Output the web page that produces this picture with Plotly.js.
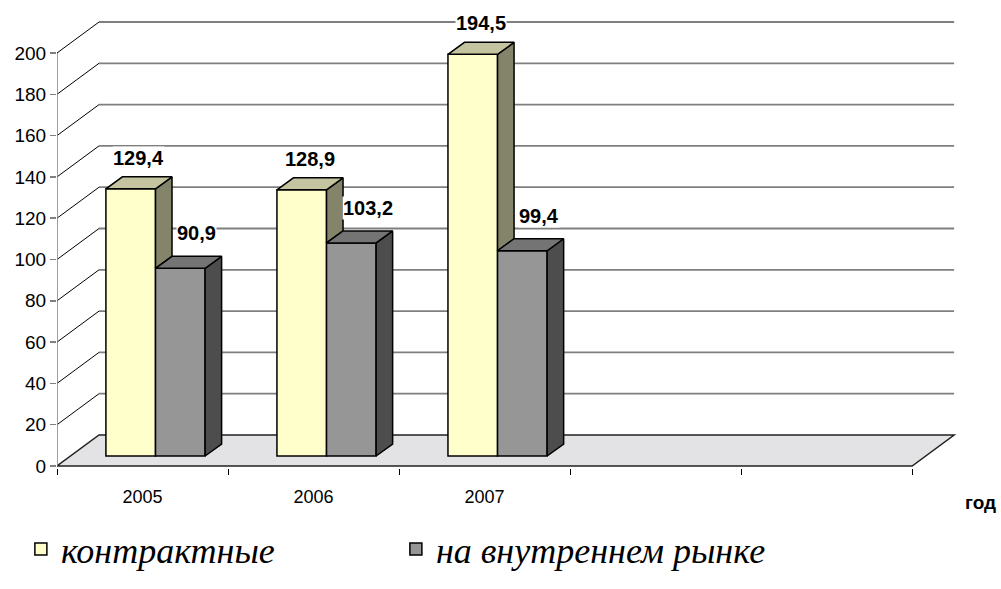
<!DOCTYPE html>
<html>
<head>
<meta charset="utf-8">
<script src="https://cdn.plot.ly/plotly-3.0.1.min.js"></script>
<style>html,body{margin:0;padding:0;background:#fff;}#chart{width:1001px;height:589px;}</style>
</head>
<body>
<div id="chart"></div>
<script>
// ---- data ----
const years = ['2005', '2006', '2007'];
const seriesNames = ['контрактные', 'на внутреннем рынке'];
const contract = [129.4, 128.9, 194.5];
const domestic = [90.9, 103.2, 99.4];
const yTickVals = [0, 20, 40, 60, 80, 100, 120, 140, 160, 180, 200];
const nCats = 5;

// ---- geometry (axis units) ----
const DX = 0.2456, DY = 15.0;      // wall depth
const BX = 0.076, BY = 4.84;       // bar plane offset from front
const BDX = 0.0965, BDY = 5.81;    // bar depth
const W = 0.29;                    // bar width
const yMax = 200;

const colors = {
  yFront: '#FFFFCC', yTop: '#C4C4A0', ySide: '#84846A',
  gFront: '#969696', gTop: '#747474', gSide: '#4D4D4D'
};

const fmt = v => v.toFixed(1).replace('.', ',');

const traces = [];
const mids = years.map((_, i) => i + 0.5 + BX);

traces.push({
  type: 'bar', name: seriesNames[0], x: mids, y: contract, base: BY,
  width: W, offset: -W,
  marker: {color: colors.yFront, line: {color: '#000', width: 1.5}},
  hoverinfo: 'skip'
});
traces.push({
  type: 'bar', name: seriesNames[1], x: mids, y: domestic, base: BY,
  width: W, offset: 0,
  marker: {color: colors.gFront, line: {color: '#000', width: 1.5}},
  hoverinfo: 'skip'
});

function poly(xs, ys, fill) {
  traces.push({
    type: 'scatter', mode: 'lines', x: xs.concat([xs[0]]), y: ys.concat([ys[0]]),
    fill: 'toself', fillcolor: fill, line: {color: '#000', width: 1.5},
    showlegend: false, hoverinfo: 'skip'
  });
}

years.forEach((_, i) => {
  const m = mids[i];
  const yl = m - W, yr = m, gr = m + W;
  const vt = contract[i] + BY, gt = domestic[i] + BY;
  const sideBottom = Math.min(gt, vt);
  poly([yr, yr + BDX, yr + BDX, yr], [sideBottom, sideBottom + BDY, vt + BDY, vt], colors.ySide);
  poly([yl, yr, yr + BDX, yl + BDX], [vt, vt, vt + BDY, vt + BDY], colors.yTop);
  poly([gr, gr + BDX, gr + BDX, gr], [BY, BY + BDY, gt + BDY, gt], colors.gSide);
  poly([yr, gr, gr + BDX, yr + BDX], [gt, gt, gt + BDY, gt + BDY], colors.gTop);
});

// ---- walls, floor, grid ----
const shapes = [];
shapes.push({
  type: 'path', layer: 'below', xref: 'x', yref: 'y',
  path: `M0,0 L${nCats},0 L${nCats + DX},${DY} L${DX},${DY} Z`,
  fillcolor: '#E3E3E5', line: {color: '#222', width: 1.5}
});
yTickVals.forEach(v => {
  if (v > 0) {
    shapes.push({type: 'line', layer: 'below', xref: 'x', yref: 'y',
      x0: DX, x1: nCats + DX, y0: v + DY, y1: v + DY,
      line: {color: '#7F7F7F', width: 1.8}});
    shapes.push({type: 'line', layer: 'below', xref: 'x', yref: 'y',
      x0: 0, x1: DX, y0: v, y1: v + DY, line: {color: '#000', width: 1}});
  }
});
shapes.push({type: 'line', layer: 'below', xref: 'x', yref: 'y',
  x0: 0, x1: 0, y0: 0, y1: yMax, line: {color: '#808080', width: 1.5}});

// ---- labels ----
const labelFont = {family: '"Liberation Sans", Arial, sans-serif', size: 20, color: '#000', weight: 'bold'};
const annotations = [];
years.forEach((_, i) => {
  const m = mids[i];
  annotations.push({
    x: m - W / 2 + BDX / 2, y: contract[i] + BY + BDY, xref: 'x', yref: 'y',
    text: fmt(contract[i]), showarrow: false, yanchor: 'bottom', xanchor: 'center',
    yshift: 7, bgcolor: '#fff', borderpad: 0, font: labelFont
  });
  annotations.push({
    x: m + W / 2 + BDX / 2, y: domestic[i] + BY + BDY, xref: 'x', yref: 'y',
    text: fmt(domestic[i]), showarrow: false, yanchor: 'bottom', xanchor: 'center',
    yshift: 11, xshift: 8, bgcolor: '#fff', borderpad: 0, font: labelFont
  });
});
annotations.push({
  x: 1.0, y: -0.075, xref: 'paper', yref: 'paper', xanchor: 'left', yanchor: 'middle',
  xshift: 3, text: 'год', showarrow: false,
  font: {family: '"Liberation Sans", Arial, sans-serif', size: 19, color: '#000', weight: 'bold'}
});

const layout = {
  width: 1001, height: 589,
  margin: {l: 57, r: 41, t: 12, b: 121, autoexpand: false},
  paper_bgcolor: '#fff', plot_bgcolor: 'rgba(0,0,0,0)',
  showlegend: true,
  barmode: 'overlay',
  xaxis: {
    range: [0, 5.28], tickmode: 'array',
    tickvals: years.map((_, i) => i + 0.5), ticktext: years,
    ticks: 'outside', ticklen: 12, tickcolor: 'rgba(0,0,0,0)',
    minor: {ticks: 'outside', ticklen: 6, tickcolor: '#000', tickwidth: 1, tickmode: 'array', tickvals: [0, 1, 2, 3, 4, 5]},
    showgrid: false, zeroline: false, showline: false,
    tickfont: {family: '"Liberation Sans", Arial, sans-serif', size: 18, color: '#000'},
    fixedrange: true
  },
  yaxis: {
    range: [-0.97, 219.85], tickmode: 'array', tickvals: yTickVals,
    ticks: 'outside', ticklen: 6, tickcolor: '#808080', tickwidth: 1.5,
    showgrid: false, zeroline: false, showline: false,
    tickfont: {family: '"Liberation Sans", Arial, sans-serif', size: 19, color: '#000'},
    fixedrange: true
  },
  legend: {
    orientation: 'h', x: -0.04, y: -0.112, xanchor: 'left', yanchor: 'top',
    entrywidth: 330, entrywidthmode: 'pixels',
    font: {family: '"Liberation Serif", "Times New Roman", serif', size: 36, style: 'italic', color: '#000'},
    bgcolor: 'rgba(0,0,0,0)'
  },
  shapes: shapes,
  annotations: annotations
};

Plotly.newPlot('chart', traces, layout, {displayModeBar: false, staticPlot: true});
</script>
</body>
</html>
